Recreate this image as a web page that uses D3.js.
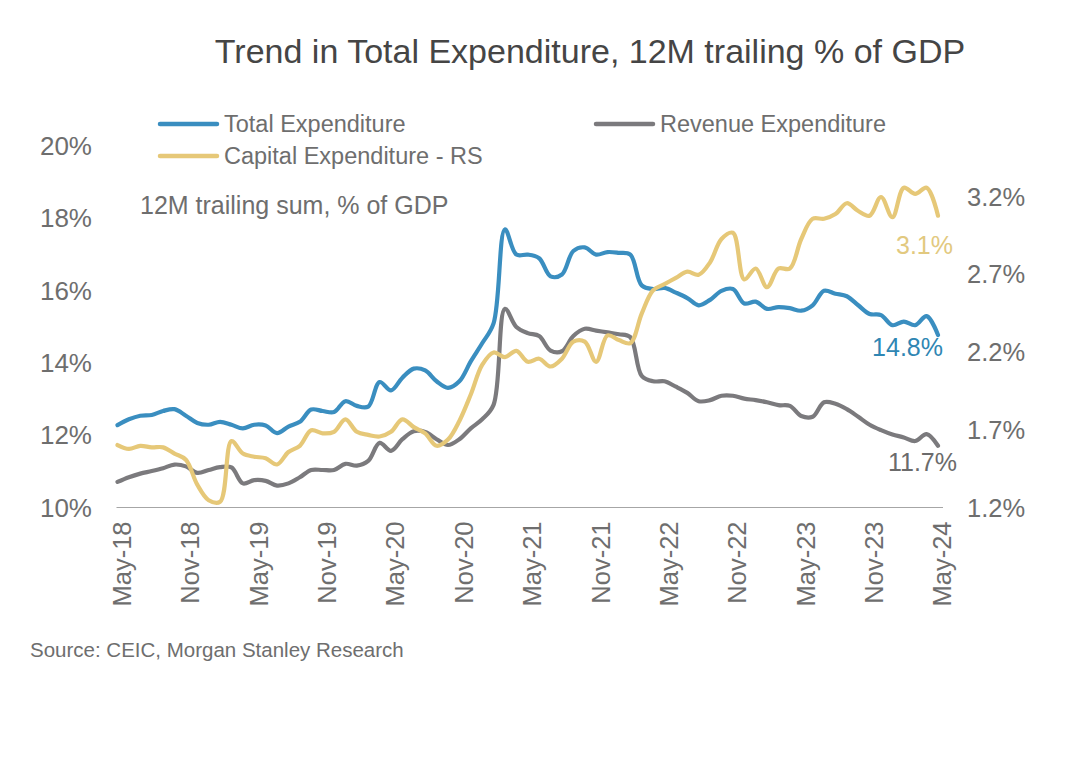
<!DOCTYPE html>
<html>
<head>
<meta charset="utf-8">
<script src="https://cdn.jsdelivr.net/npm/d3@7"></script>
<style>
  html, body { margin: 0; padding: 0; background: #ffffff; }
  svg { display: block; font-family: "Liberation Sans", Arial, Helvetica, sans-serif; }
</style>
</head>
<body>
<svg id="chart" width="1080" height="757"></svg>
<script>
// ---------- DATA ----------
const months = d3.timeMonths(new Date(2018, 4, 1), new Date(2024, 5, 1)); // May-18 .. May-24 (73 months)

const totalExpenditure = [
  12.29, 12.45, 12.55, 12.57, 12.68, 12.73, 12.55, 12.35, 12.30, 12.38,
  12.30, 12.20, 12.30, 12.28, 12.07, 12.25, 12.38, 12.72, 12.68, 12.65,
  12.95, 12.82, 12.80, 13.48, 13.25, 13.60, 13.85, 13.80, 13.50, 13.32,
  13.50, 14.05, 14.55, 15.10, 17.70, 17.00, 17.00, 16.90, 16.40, 16.45,
  17.10, 17.20, 17.00, 17.07, 17.05, 17.00, 16.15, 16.05, 16.08, 15.95,
  15.80, 15.60, 15.75, 16.00, 16.05, 15.65, 15.70, 15.50, 15.55, 15.52,
  15.45, 15.60, 16.00, 15.92, 15.85, 15.60, 15.36, 15.33, 15.05, 15.15,
  15.05, 15.30, 14.78
];

const revenueExpenditure = [
  10.72, 10.85, 10.95, 11.02, 11.10, 11.20, 11.15, 10.97, 11.05, 11.13,
  11.12, 10.68, 10.77, 10.75, 10.62, 10.68, 10.85, 11.05, 11.05, 11.05,
  11.22, 11.17, 11.30, 11.80, 11.58, 11.90, 12.12, 12.10, 11.90, 11.74,
  11.90, 12.20, 12.45, 12.85, 15.50, 15.00, 14.83, 14.75, 14.35, 14.33,
  14.75, 14.95, 14.90, 14.85, 14.80, 14.72, 13.65, 13.50, 13.50, 13.35,
  13.18, 12.95, 12.98, 13.10, 13.10, 13.02, 12.98, 12.92, 12.84, 12.82,
  12.54, 12.52, 12.92, 12.88, 12.73, 12.52, 12.30, 12.15, 12.03, 11.95,
  11.85, 12.04, 11.72
];

const capitalExpenditure = [
  1.605, 1.58, 1.60, 1.59, 1.59, 1.55, 1.51, 1.35, 1.25, 1.24,
  1.63, 1.55, 1.53, 1.52, 1.48, 1.56, 1.60, 1.70, 1.68, 1.69,
  1.77, 1.69, 1.67, 1.66, 1.69, 1.77, 1.72, 1.68, 1.60, 1.64,
  1.76, 1.93, 2.12, 2.20, 2.17, 2.21, 2.14, 2.16, 2.11, 2.16,
  2.27, 2.27, 2.14, 2.31, 2.28, 2.26, 2.45, 2.60, 2.64, 2.68,
  2.72, 2.70, 2.78, 2.93, 2.97, 2.67, 2.74, 2.62, 2.74, 2.74,
  2.93, 3.06, 3.06, 3.09, 3.16, 3.11, 3.08, 3.20, 3.07, 3.26,
  3.22, 3.26, 3.08
];

const leftTicks = [10, 12, 14, 16, 18, 20];
const rightTicks = [1.2, 1.7, 2.2, 2.7, 3.2];
const xTickIndex = d3.range(0, 73, 6);

const seriesNames = ["Total Expenditure", "Capital Expenditure - RS", "Revenue Expenditure"];
const endLabels = ["14.8%", "3.1%", "11.7%"];
const titleText = "Trend in Total Expenditure, 12M trailing % of GDP";
const subtitleText = "12M trailing sum, % of GDP";
const sourceText = "Source: CEIC, Morgan Stanley Research";

// ---------- STYLE ----------
const C_BLUE = "#3a8ec0", C_YELLOW = "#e6c878", C_GRAY = "#7b7a7d";
const C_TEXT = "#6e6e6e";

const svg = d3.select("#chart");

const x = d3.scaleLinear().domain([0, months.length - 1]).range([117.5, 938]);
const yL = d3.scaleLinear().domain([10, 20]).range([508, 146]);
const yR = d3.scaleLinear().domain([1.2, 3.2]).range([508, 197]);
const fmtMonth = d3.timeFormat("%b-%y");

// Title
svg.append("text").attr("x", 590).attr("y", 63).attr("text-anchor", "middle")
  .attr("font-size", 34).attr("fill", "#454545").text(titleText);

// Subtitle
svg.append("text").attr("x", 140).attr("y", 214)
  .attr("font-size", 25).attr("fill", C_TEXT).text(subtitleText);

// Source
svg.append("text").attr("x", 30).attr("y", 657)
  .attr("font-size", 20.5).attr("fill", C_TEXT).text(sourceText);

// Left axis
const gL = svg.append("g").attr("transform", "translate(92,0)")
  .call(d3.axisLeft(yL).tickValues(leftTicks).tickSize(0).tickPadding(0).tickFormat(d => d + "%"));
gL.select(".domain").remove();
gL.selectAll("text").attr("font-size", 26).attr("fill", C_TEXT).attr("font-family", null);

// Right axis
const gR = svg.append("g").attr("transform", "translate(967,0)")
  .call(d3.axisRight(yR).tickValues(rightTicks).tickSize(0).tickPadding(0).tickFormat(d => d.toFixed(1) + "%"));
gR.select(".domain").remove();
gR.selectAll("text").attr("font-size", 25.5).attr("fill", C_TEXT).attr("font-family", null);

// Bottom axis
const gB = svg.append("g").attr("transform", "translate(0,507.5)")
  .call(d3.axisBottom(x).tickValues(xTickIndex).tickSize(0).tickFormat(i => fmtMonth(months[i])));
gB.select(".domain").attr("stroke", "#a6a6a6").attr("stroke-width", 1.2)
  .attr("d", `M${x.range()[0] - 1},0H${x.range()[1] + 5}`);
gB.selectAll("text")
  .attr("font-size", 25.5).attr("fill", C_TEXT).attr("font-family", null)
  .attr("text-anchor", "end")
  .attr("transform", "rotate(-90)")
  .attr("x", -14).attr("y", 4).attr("dy", "0.35em");

// Lines
const lineL = d3.line().x((d, i) => x(i)).y(d => yL(d)).curve(d3.curveCatmullRom.alpha(0.5));
const lineR = d3.line().x((d, i) => x(i)).y(d => yR(d)).curve(d3.curveCatmullRom.alpha(0.5));

function drawLine(data, gen, color) {
  svg.append("path").datum(data).attr("d", gen)
    .attr("fill", "none").attr("stroke", color).attr("stroke-width", 4.2)
    .attr("stroke-linejoin", "round").attr("stroke-linecap", "round");
}
drawLine(revenueExpenditure, lineL, C_GRAY);
drawLine(totalExpenditure, lineL, C_BLUE);
drawLine(capitalExpenditure, lineR, C_YELLOW);

// End labels
const last = months.length - 1;
svg.append("text").attr("x", x(last) + 5).attr("y", yL(totalExpenditure[last]) + 21)
  .attr("text-anchor", "end").attr("font-size", 25).attr("fill", "#2f86b3").text(endLabels[0]);
svg.append("text").attr("x", x(last) + 15).attr("y", yR(capitalExpenditure[last]) + 38)
  .attr("text-anchor", "end").attr("font-size", 25).attr("fill", "#e2c97f").text(endLabels[1]);
svg.append("text").attr("x", x(last) + 19).attr("y", yL(revenueExpenditure[last]) + 25)
  .attr("text-anchor", "end").attr("font-size", 25).attr("fill", "#6b6b6b").text(endLabels[2]);

// Legend
const legendItems = [
  { name: seriesNames[0], color: C_BLUE, x: 160, y: 124 },
  { name: seriesNames[1], color: C_YELLOW, x: 160, y: 156 },
  { name: seriesNames[2], color: C_GRAY, x: 596, y: 124 }
];
const lg = svg.append("g");
legendItems.forEach(it => {
  lg.append("line").attr("x1", it.x).attr("x2", it.x + 57).attr("y1", it.y).attr("y2", it.y)
    .attr("stroke", it.color).attr("stroke-width", 4.5).attr("stroke-linecap", "round");
  lg.append("text").attr("x", it.x + 64).attr("y", it.y + 8)
    .attr("font-size", 23.5).attr("fill", C_TEXT).text(it.name);
});
</script>
</body>
</html>
